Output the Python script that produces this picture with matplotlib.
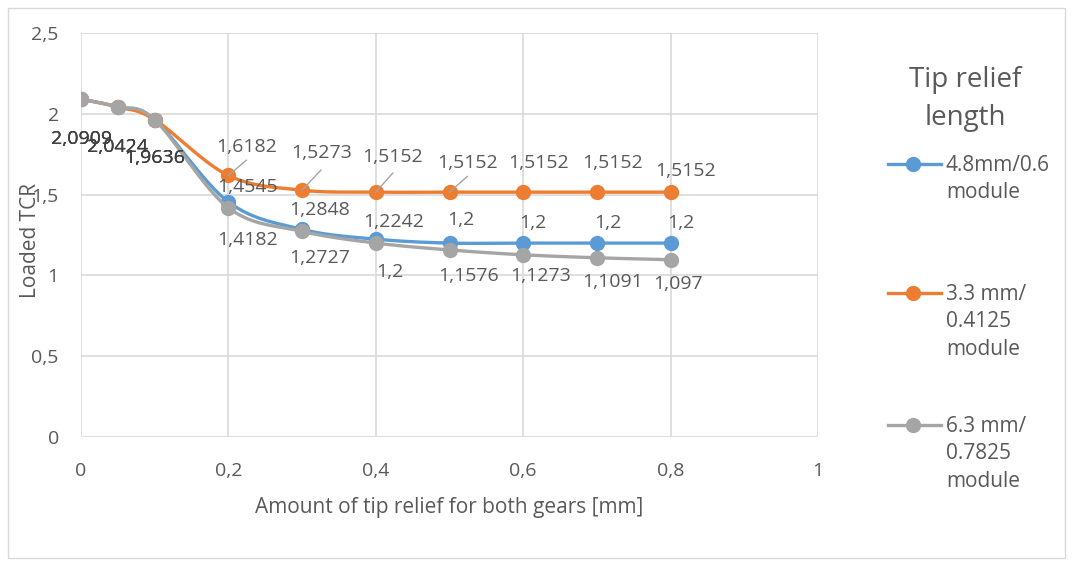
import matplotlib.pyplot as plt
import numpy as np
from matplotlib.lines import Line2D
from matplotlib.patches import Rectangle

plt.rcParams['font.family'] = ['Open Sans', 'DejaVu Sans']

# data
relief = [0, 0.05, 0.1, 0.2, 0.3, 0.4, 0.5, 0.6, 0.7, 0.8]
tcr_48 = [2.0909, 2.0424, 1.9636, 1.4545, 1.2848, 1.2242, 1.2, 1.2, 1.2, 1.2]
tcr_33 = [2.0909, 2.0424, 1.9636, 1.6182, 1.5273, 1.5152, 1.5152, 1.5152, 1.5152, 1.5152]
tcr_63 = [2.0909, 2.0424, 1.9636, 1.4182, 1.2727, 1.2, 1.1576, 1.1273, 1.1091, 1.097]
names = ['4.8mm/0.6\nmodule', '3.3 mm/\n0.4125\nmodule', '6.3 mm/\n0.7825\nmodule']
colors = ['#5B9BD5', '#ED7D31', '#A5A5A5']

# label offsets in pixels (dx, dy up)
first3 = [(0, -40), (0, -40), (0, -38)]
off_48 = first3 + [(19, 15), (17, 19), (18, 17), (11, 23), (10, 20), (11, 20), (10, 20)]
off_33 = first3 + [(18, 28), (19, 37), (17, 35), (18, 29), (15, 29), (16, 29), (15, 21)]
off_63 = first3 + [(19, -32), (18, -27), (14, -29), (19, -26), (17, -21), (16, -24), (7, -24)]
leaders = [3, 4, 5, 6]


def smooth(x, y, n=30):
    # Excel-style smoothed line (Bezier through points)
    x = np.asarray(x, float)
    y = np.asarray(y, float)
    px = np.concatenate([[x[0]], x, [x[-1]]])
    py = np.concatenate([[y[0]], y, [y[-1]]])
    xs, ys = [], []
    t = np.linspace(0, 1, n)
    for i in range(1, len(px) - 2):
        p0 = np.array([px[i], py[i]])
        p3 = np.array([px[i + 1], py[i + 1]])
        p1 = p0 + (p3 - np.array([px[i - 1], py[i - 1]])) / 6
        p2 = p3 - (np.array([px[i + 2], py[i + 2]]) - p0) / 6
        b = ((1 - t) ** 3)[:, None] * p0 + (3 * (1 - t) ** 2 * t)[:, None] * p1 \
            + (3 * (1 - t) * t ** 2)[:, None] * p2 + (t ** 3)[:, None] * p3
        xs.extend(b[:, 0])
        ys.extend(b[:, 1])
    return xs, ys


fig = plt.figure(figsize=(10.73, 5.66), dpi=100)
ax = fig.add_axes([81 / 1073, 1 - 437 / 566, 737 / 1073, 404 / 566])

series = [tcr_48, tcr_33, tcr_63]
offsets = [off_48, off_33, off_63]
for k, (vals, col) in enumerate(zip(series, colors)):
    sx, sy = smooth(relief, vals)
    ax.plot(sx, sy, color=col, lw=2.4, zorder=3 + k, solid_capstyle='round')
    ax.plot(relief, vals, 'o', color=col, ms=10, zorder=3 + k)

for k, (vals, offs) in enumerate(zip(series, offsets)):
    for i, (xv, yv) in enumerate(zip(relief, vals)):
        dx, dy = offs[i]
        txt = ('%.4f' % yv).rstrip('0').rstrip('.').replace('.', ',')
        c = '#404040' if i < 3 else '#595959'
        ax.annotate(txt, (xv, yv), xytext=(dx, dy), textcoords='offset pixels',
                    ha='center', va='center', fontsize=14, color=c, zorder=10)
        if k == 1 and i in leaders:
            ax.annotate('', (xv, yv), xytext=(dx * 0.95 + 1, dy * 0.55),
                        textcoords='offset pixels',
                        arrowprops=dict(arrowstyle='-', color='#A5A5A5', lw=1,
                                        shrinkA=0, shrinkB=0), zorder=9)

ax.set_xlim(0, 1)
ax.set_ylim(0, 2.5)
ax.set_xticks(np.arange(0, 1.01, 0.2))
ax.set_yticks(np.arange(0, 2.51, 0.5))
ax.set_xticklabels(['0', '0,2', '0,4', '0,6', '0,8', '1'])
ax.set_yticklabels(['0', '0,5', '1', '1,5', '2', '2,5'])
ax.tick_params(length=0, labelsize=14, labelcolor='#595959')
ax.tick_params(axis='x', pad=18)
ax.tick_params(axis='y', pad=16)
ax.grid(True, color='#D9D9D9', lw=1.2)
ax.set_axisbelow(True)
for s in ax.spines.values():
    s.set_visible(False)
ax.set_xlabel('Amount of tip relief for both gears [mm]', fontsize=15, color='#595959',
              va='center')
ax.set_ylabel('Loaded TCR', fontsize=15, color='#595959', va='center', ha='center')
ax.xaxis.set_label_coords(0.5, (437 - 508) / 404)
ax.yaxis.set_label_coords((30 - 81) / 737, (437 - 240) / 404)

# legend
fig.text(965 / 1073, 1 - 99 / 566, 'Tip relief\nlength', ha='center', va='center',
         fontsize=20, color='#595959', linespacing=1.45)
ys = [164, 293, 425]
for name, col, yp in zip(names, colors, ys):
    yf = 1 - yp / 566
    fig.add_artist(Line2D([888 / 1073, 941 / 1073], [yf, yf], color=col, lw=2.4))
    fig.add_artist(Line2D([913 / 1073], [yf], marker='o', color=col, ms=10))
    fig.text(946 / 1073, yf + 9 / 566, name, ha='left', va='top', fontsize=15,
             color='#595959', linespacing=1.4)

fig.add_artist(Rectangle((8 / 1073, 8 / 566), 1057 / 1073, 550 / 566, fill=False,
                         edgecolor='#D9D9D9', lw=1, transform=fig.transFigure))

fig.savefig('out.png', dpi=100)
